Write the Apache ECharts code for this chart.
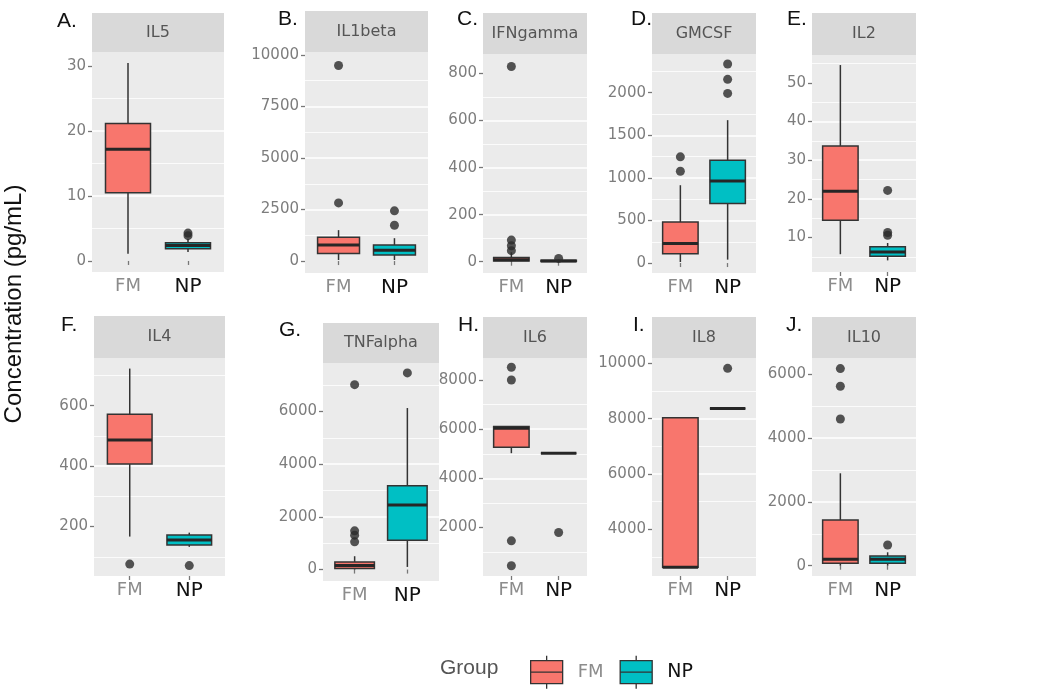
<!DOCTYPE html>
<html><head><meta charset="utf-8">
<script src="https://cdn.jsdelivr.net/npm/echarts@6/dist/echarts.min.js"></script>
<style>html,body{margin:0;padding:0;background:#fff}#c{width:1050px;height:690px}</style>
</head><body><div id="c"></div>
<script>
// ---------------- data ----------------
const cytokines = ['IL5', 'IL1beta', 'IFNgamma', 'GMCSF', 'IL2', 'IL4', 'TNFalpha', 'IL6', 'IL8', 'IL10'];
const panelLetters = ['A.', 'B.', 'C.', 'D.', 'E.', 'F.', 'G.', 'H.', 'I.', 'J.'];
const groups = ['FM', 'NP'];
// [lower whisker, Q1, median, Q3, upper whisker]
const fmStats = [
  [1.1, 10.5, 17.2, 21.2, 30.5],
  [50, 370, 775, 1150, 1500],
  [0, 3, 8, 18, 40],
  [12, 110, 228, 482, 914],
  [5.7, 14.5, 22.0, 33.7, 54.6],
  [167, 407, 487, 572, 723],
  [0, 38, 150, 290, 507],
  [5024, 5268, 6040, 6106, 6106],
  [2628, 2628, 2628, 8036, 8036],
  [0, 75, 200, 1430, 2892]
];
const npStats = [
  [1.4, 1.9, 2.4, 2.8, 3.4],
  [50, 290, 530, 775, 1110],
  [0, 1, 3, 6, 9],
  [40, 698, 964, 1208, 1678],
  [4.1, 5.2, 6.3, 7.6, 8.6],
  [133, 139, 156, 172, 180],
  [100, 1116, 2450, 3185, 6134],
  [5024, 5024, 5024, 5024, 5024],
  [8362, 8362, 8362, 8362, 8362],
  [0, 75, 200, 304, 420]
];
const fmOutliers = [
  [],
  [9490, 2820],
  [830, 92, 68, 47],
  [1247, 1078],
  [],
  [76],
  [7022, 1470, 1307, 1052],
  [8516, 8000, 1460, 445],
  [],
  [6168, 5615, 4590]
];
const npOutliers = [
  [4.3, 3.9],
  [2435, 1740],
  [14],
  [2337, 2157, 1992],
  [22.2, 11.3, 10.6],
  [71],
  [7468],
  [1797],
  [9819],
  [648]
];
const yTickLabels = [
  [0, 10, 20, 30],
  [0, 2500, 5000, 7500, 10000],
  [0, 200, 400, 600, 800],
  [0, 500, 1000, 1500, 2000],
  [10, 20, 30, 40, 50],
  [200, 400, 600],
  [0, 2000, 4000, 6000],
  [2000, 4000, 6000, 8000],
  [4000, 6000, 8000, 10000],
  [0, 2000, 4000, 6000]
];
const yExtents = [
  [-1.7, 32.2], [-580, 10145], [-48, 883], [-117, 2455], [1.1, 57.2],
  [36.5, 758], [-434, 7844], [30, 8894], [2310, 10192], [-322, 6500]
];

// ---------------- layout ----------------
// [left, stripTop, plotTop, width, plotBottom]
const panelBoxes = [
  [92, 13, 52, 132, 272], [305, 11, 52, 123, 273], [483, 13, 54, 104, 273], [652, 13, 54, 104, 273], [812, 13, 55, 104, 272],
  [94, 316, 358, 131, 576], [323, 323, 363, 116, 581], [483, 317, 358, 104, 576], [652, 317, 358, 104, 576], [812, 317, 358, 104, 576]
];
const letterPos = [
  [57, 11], [278, 9], [457, 9], [631, 9], [787, 9],
  [61, 315], [279, 320], [458, 315], [633, 315], [786, 315]
];
const fillColors = { FM: '#F8766D', NP: '#00BFC4' };

function renderBox(params, api) {
  const x = api.value(0);
  const pLo = api.coord([x, api.value(1)]);
  const pQ1 = api.coord([x, api.value(2)]);
  const pMed = api.coord([x, api.value(3)]);
  const pQ3 = api.coord([x, api.value(4)]);
  const pHi = api.coord([x, api.value(5)]);
  const bw = api.size([1, 0])[0] * 0.75;
  const cx = pMed[0];
  const fill = api.visual('color');
  const ls = { stroke: '#333', lineWidth: 1.5 };
  return {
    type: 'group',
    children: [
      { type: 'line', shape: { x1: cx, y1: pHi[1], x2: cx, y2: pQ3[1] }, style: ls },
      { type: 'line', shape: { x1: cx, y1: pQ1[1], x2: cx, y2: pLo[1] }, style: ls },
      { type: 'rect', shape: { x: cx - bw / 2, y: pQ3[1], width: bw, height: pQ1[1] - pQ3[1] },
        style: { fill: fill, stroke: '#333', lineWidth: 1.5 } },
      { type: 'line', shape: { x1: cx - bw / 2, y1: pMed[1], x2: cx + bw / 2, y2: pMed[1] },
        style: { stroke: '#262626', lineWidth: 3 } }
    ]
  };
}

const grids = [], xAxes = [], yAxes = [], series = [], graphics = [];
cytokines.forEach((name, i) => {
  const [left, stripTop, top, width, bottom] = panelBoxes[i];
  grids.push({ left: left, top: top, width: width, height: bottom - top, show: true,
    backgroundColor: '#EBEBEB', borderWidth: 0, containLabel: false });
  xAxes.push({
    type: 'value', gridIndex: i, min: 0.4, max: 2.6, minInterval: 1, maxInterval: 1,
    axisLine: { show: false },
    axisTick: { show: true, length: 4, customValues: [1, 2], lineStyle: { color: '#777', width: 1.3 } },
    axisLabel: {
      customValues: [1, 2], margin: 5,
      formatter: v => v === 1 ? '{fm|' + groups[0] + '}' : (v === 2 ? '{np|' + groups[1] + '}' : ''),
      rich: {
        fm: { color: '#8c8c8c', fontSize: 18, fontFamily: 'DejaVu Sans' },
        np: { color: '#111', fontSize: 20, fontFamily: 'DejaVu Sans' }
      }
    },
    splitLine: { show: true, showMinLine: false, showMaxLine: false, lineStyle: { color: '#fff', width: 1.6 } }
  });
  const ticks = yTickLabels[i];
  const step = ticks[1] - ticks[0];
  yAxes.push({
    type: 'value', gridIndex: i, min: yExtents[i][0], max: yExtents[i][1],
    minInterval: step, maxInterval: step,
    axisLine: { show: false },
    axisTick: { show: true, length: 4, customValues: ticks, lineStyle: { color: '#777', width: 1.3 } },
    axisLabel: { customValues: ticks, margin: 6, formatter: v => String(v),
      color: '#7d7d7d', fontSize: 15, fontFamily: 'DejaVu Sans' },
    splitLine: { show: true, showMinLine: false, showMaxLine: false, lineStyle: { color: '#fff', width: 1.6 } },
    minorTick: { show: false, splitNumber: 2 },
    minorSplitLine: { show: true, lineStyle: { color: '#fff', width: 0.8 } }
  });
  series.push({
    type: 'custom', name: 'FM', xAxisIndex: i, yAxisIndex: i, renderItem: renderBox,
    itemStyle: { color: fillColors.FM, borderColor: '#333', borderWidth: 1.2 },
    encode: { x: 0, y: [1, 2, 3, 4, 5] }, data: [[1].concat(fmStats[i])]
  });
  series.push({
    type: 'custom', name: 'NP', xAxisIndex: i, yAxisIndex: i, renderItem: renderBox,
    itemStyle: { color: fillColors.NP, borderColor: '#333', borderWidth: 1.2 },
    encode: { x: 0, y: [1, 2, 3, 4, 5] }, data: [[2].concat(npStats[i])]
  });
  series.push({
    type: 'scatter', name: 'outliers', xAxisIndex: i, yAxisIndex: i, symbolSize: 9, z: 5,
    itemStyle: { color: '#2a2a2a' },
    data: fmOutliers[i].map(v => [1, v]).concat(npOutliers[i].map(v => [2, v]))
  });
  // facet strip
  graphics.push({ type: 'rect', shape: { x: left, y: stripTop, width: width, height: top - stripTop },
    style: { fill: '#D9D9D9' }, silent: true });
  graphics.push({ type: 'text', x: left + width / 2, y: (stripTop + top) / 2,
    style: { text: name, fill: '#555', font: '16px "DejaVu Sans"', textAlign: 'center', textVerticalAlign: 'middle' } });
  graphics.push({ type: 'text', x: letterPos[i][0], y: letterPos[i][1],
    style: { text: panelLetters[i], fill: '#111', font: '21px "Liberation Sans"', textAlign: 'left', textVerticalAlign: 'top' } });
});

graphics.push({ type: 'text', x: 14.6, y: 304, rotation: Math.PI / 2,
  style: { text: 'Concentration (pg/mL)', fill: '#111', font: '24px "Liberation Sans"', textAlign: 'center', textVerticalAlign: 'middle' } });
graphics.push({ type: 'text', x: 440, y: 668,
  style: { text: 'Group', fill: '#555', font: '21px "Liberation Sans"', textAlign: 'left', textVerticalAlign: 'middle' } });

const chart = echarts.init(document.getElementById('c'), null, { renderer: 'canvas' });
chart.setOption({
  animation: false,
  backgroundColor: '#fff',
  grid: grids, xAxis: xAxes, yAxis: yAxes, series: series,
  legend: {
    data: groups, left: 525, top: 650, orient: 'horizontal', itemWidth: 32, itemHeight: 33, itemGap: 16,
    selectedMode: false,
    icon: 'path://M16,0L16,5M0,5L32,5L32,28L0,28ZM0,16.5L32,16.5M16,28L16,33',
    itemStyle: { borderColor: '#333', borderWidth: 1.3 },
    formatter: n => n === 'FM' ? '{fm|FM}' : '{np|NP}',
    textStyle: { rich: {
      fm: { color: '#8c8c8c', fontSize: 18, fontFamily: 'DejaVu Sans', padding: [0, 0, 0, 10] },
      np: { color: '#111', fontSize: 19, fontFamily: 'DejaVu Sans', padding: [0, 0, 0, 10] }
    } }
  },
  graphic: graphics
});
</script></body></html>
